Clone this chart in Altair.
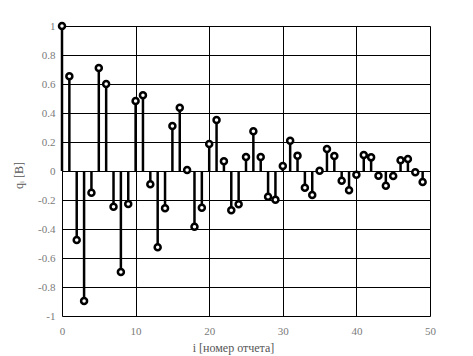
import altair as alt
import pandas as pd

idx = list(range(50))
values = [1.0, 0.653, -0.476, -0.897, -0.15, 0.71, 0.6, -0.246, -0.697, -0.228,
          0.483, 0.522, -0.092, -0.526, -0.257, 0.31, 0.437, 0.007, -0.384, -0.253,
          0.186, 0.352, 0.067, -0.271, -0.23, 0.097, 0.274, 0.097, -0.177, -0.198,
          0.034, 0.209, 0.106, -0.115, -0.166, 0.002, 0.152, 0.104, -0.067, -0.133,
          -0.025, 0.11, 0.094, -0.032, -0.101, -0.034, 0.074, 0.083, -0.009, -0.076]
x_ticks = [0, 10, 20, 30, 40, 50]
y_ticks = [-1, -0.8, -0.6, -0.4, -0.2, 0, 0.2, 0.4, 0.6, 0.8, 1]

df = pd.DataFrame({"i": idx, "q": values, "zero": [0] * len(idx)})

font = "Liberation Serif"
grey = "#7a7a7a"

x_enc = alt.X("i:Q", scale=alt.Scale(domain=[0, 50], nice=False, zero=False),
              axis=alt.Axis(values=x_ticks, tickCount=6, grid=True, gridColor="black",
                            gridWidth=1, gridOpacity=1, ticks=False, domain=False,
                            labelPadding=9, labelOverlap=False, labelFlush=False,
                            labelFont=font, labelFontSize=11, labelColor=grey,
                            title="i [номер отчета]", titleFont=font, titleFontSize=12,
                            titleFontWeight="normal", titleColor="#555",
                            titleX=171, titleY=31, titleAlign="center",
                            titleBaseline="middle"))
y_enc = alt.Y("q:Q", scale=alt.Scale(domain=[-1, 1], nice=False),
              axis=alt.Axis(values=y_ticks, tickCount=11, grid=True, gridColor="black",
                            gridWidth=1, gridOpacity=1, ticks=False, domain=False,
                            labelPadding=7, labelOverlap=False, labelFlush=False,
                            labelExpr="'' + datum.value",
                            labelFont=font, labelFontSize=11, labelColor=grey,
                            title="qᵢ [В]", titleFont=font, titleFontSize=12,
                            titleFontWeight="normal", titleColor="#555",
                            titleAngle=-90, titleX=-44, titleY=149,
                            titleAlign="center", titleBaseline="middle"))

base = alt.Chart(df).encode(x=x_enc, y=y_enc)
stems = base.mark_rule(color="black", strokeWidth=2.5).encode(y2="zero:Q")
heads = base.mark_point(shape="circle", filled=False, fill="white",
                        fillOpacity=1, color="black", strokeWidth=2.5,
                        size=36, opacity=1)

chart = alt.layer(stems, heads).properties(
    width=368, height=290,
    autosize=alt.AutoSizeParams(type="none"),
    padding={"left": 62, "top": 26, "right": 43, "bottom": 40},
).configure_view(stroke="black", strokeWidth=1).configure(background="white")

chart.save("out.html", embed_options={"renderer": "svg", "actions": False})
